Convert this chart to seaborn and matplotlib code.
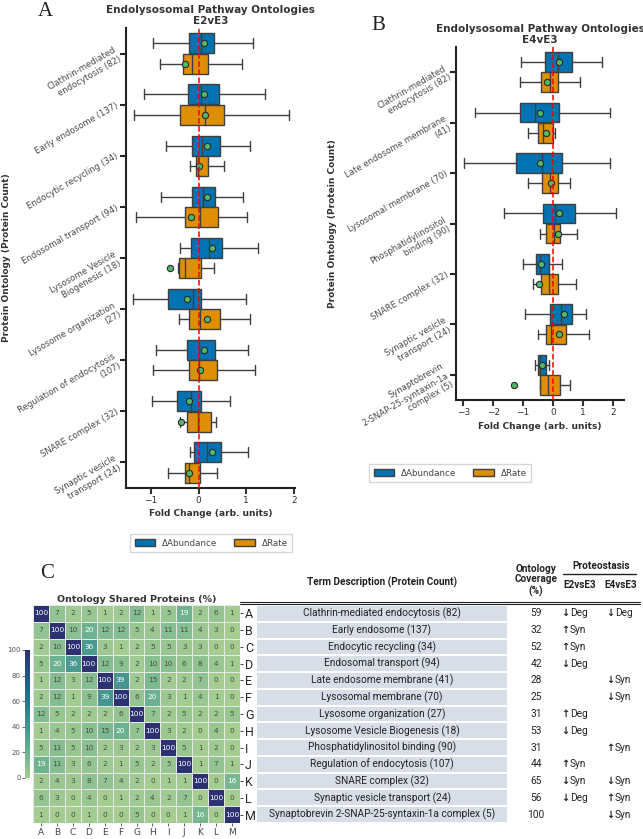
import numpy as np
import matplotlib
matplotlib.use("Agg")
import matplotlib.pyplot as plt
from matplotlib.patches import Patch, Rectangle
import seaborn as sns

sns.set_theme(style="ticks")
plt.rcParams["font.family"] = ["DejaVu Sans"]

W, H = 643, 839
BLUE, ORANGE = "#0173B2", "#DE8F05"
EDGE = "#3f3f3f"
MEAN = "#4fb86a"

# ---- panel A: E2vE3, rows = [whislo, q1, median, q3, whishi, mean]
a_terms = ["Clathrin-mediated\nendocytosis (82)", "Early endosome (137)", "Endocytic recycling (34)",
           "Endosomal transport (94)", "Lysosome Vesicle\nBiogenesis (18)", "Lysosome organization\n(27)",
           "Regulation of endocytosis\n(107)", "SNARE complex (32)", "Synaptic vesicle\ntransport (24)"]
a_abund = [[-0.95, -0.20, 0.05, 0.33, 1.13, 0.12],
           [-1.15, -0.23, 0.06, 0.42, 1.40, 0.12],
           [-0.69, -0.13, 0.07, 0.45, 1.07, 0.17],
           [-0.78, -0.13, 0.10, 0.35, 0.94, 0.17],
           [-0.38, -0.15, 0.21, 0.50, 1.25, 0.29],
           [-1.37, -0.65, -0.12, 0.06, 0.99, -0.24],
           [-0.89, -0.24, 0.00, 0.34, 1.03, 0.11],
           [-0.97, -0.45, -0.15, 0.05, 0.65, -0.20],
           [-0.17, -0.10, 0.17, 0.46, 1.04, 0.29]]
a_rate = [[-0.81, -0.33, -0.13, 0.19, 0.92, -0.29],
          [-1.36, -0.39, 0.13, 0.53, 1.89, 0.13],
          [-0.17, -0.06, -0.01, 0.19, 0.54, 0.01],
          [-1.31, -0.28, 0.02, 0.41, 1.01, -0.16],
          [-0.43, -0.41, -0.28, 0.06, 0.32, -0.59],
          [-0.41, -0.20, 0.02, 0.45, 1.08, 0.17],
          [-0.96, -0.21, 0.01, 0.39, 1.19, 0.02],
          [-0.39, -0.24, -0.01, 0.27, 0.37, -0.37],
          [-0.63, -0.28, -0.19, 0.04, 0.39, -0.21]]

# ---- panel B: E4vE3
b_terms = ["Clathrin-mediated\nendocytosis (82)", "Late endosome membrane\n(41)", "Lysosomal membrane (70)",
           "Phosphatidylinositol\nbinding (90)", "SNARE complex (32)", "Synaptic vesicle\ntransport (24)",
           "Synaptobrevin\n2-SNAP-25-syntaxin-1a\ncomplex (5)"]
b_abund = [[-1.08, -0.27, 0.16, 0.63, 1.63, 0.20],
           [-2.61, -1.10, -0.60, 0.20, 1.90, -0.42],
           [-2.98, -1.24, -0.38, 0.29, 1.90, -0.44],
           [-1.64, -0.33, 0.05, 0.72, 2.09, 0.21],
           [-1.01, -0.56, -0.42, -0.14, 0.29, -0.40],
           [-0.93, -0.09, 0.27, 0.64, 1.11, 0.38],
           [-0.59, -0.51, -0.42, -0.24, -0.14, -0.38]]
b_rate = [[-1.10, -0.40, -0.11, 0.18, 0.89, -0.20],
          [-0.83, -0.50, -0.32, 0.00, 0.07, -0.24],
          [-0.83, -0.37, -0.11, 0.18, 0.58, -0.08],
          [-0.42, -0.22, 0.02, 0.23, 0.80, 0.16],
          [-0.66, -0.40, -0.13, 0.18, 0.78, -0.47],
          [-0.49, -0.22, -0.08, 0.42, 1.20, 0.20],
          [-0.42, -0.42, -0.17, 0.23, 0.56, -1.31]]

# ---- panel C
letters = list("ABCDEFGHIJKLM")
shared = np.array([
    [100, 7, 2, 5, 1, 2, 12, 1, 5, 19, 2, 6, 1],
    [7, 100, 10, 20, 12, 12, 5, 4, 11, 11, 4, 3, 0],
    [2, 10, 100, 36, 3, 1, 2, 5, 5, 3, 3, 0, 0],
    [5, 20, 36, 100, 12, 9, 2, 10, 10, 6, 8, 4, 1],
    [1, 12, 3, 12, 100, 39, 2, 15, 2, 2, 7, 0, 0],
    [2, 12, 1, 9, 39, 100, 6, 20, 3, 1, 4, 1, 0],
    [12, 5, 2, 2, 2, 6, 100, 7, 2, 5, 2, 2, 5],
    [1, 4, 5, 10, 15, 20, 7, 100, 3, 2, 0, 4, 0],
    [5, 11, 5, 10, 2, 3, 2, 3, 100, 5, 1, 2, 0],
    [19, 11, 3, 6, 2, 1, 5, 2, 5, 100, 1, 7, 1],
    [2, 4, 3, 8, 7, 4, 2, 0, 1, 1, 100, 0, 16],
    [6, 3, 0, 4, 0, 1, 2, 4, 2, 7, 0, 100, 0],
    [1, 0, 0, 1, 0, 0, 5, 0, 0, 1, 16, 0, 100]])
term_desc = ["Clathrin-mediated endocytosis (82)", "Early endosome (137)", "Endocytic recycling (34)",
             "Endosomal transport (94)", "Late endosome membrane (41)", "Lysosomal membrane (70)",
             "Lysosome organization (27)", "Lysosome Vesicle Biogenesis (18)", "Phosphatidylinositol binding (90)",
             "Regulation of endocytosis (107)", "SNARE complex (32)", "Synaptic vesicle transport (24)",
             "Synaptobrevin 2-SNAP-25-syntaxin-1a complex (5)"]
coverage = [59, 32, 52, 42, 28, 25, 31, 53, 31, 44, 65, 56, 100]
e2_arrow = ["↓", "↑", "↑", "↓", "", "", "↑", "↓", "", "↑", "↓", "↓", ""]
e2_kind = ["Deg", "Syn", "Syn", "Deg", "", "", "Deg", "Deg", "", "Syn", "Syn", "Deg", ""]
e4_arrow = ["↓", "", "", "", "↓", "↓", "", "", "↑", "", "↓", "↑", "↓"]
e4_kind = ["Deg", "", "", "", "Syn", "Syn", "", "", "Syn", "", "Syn", "Syn", "Syn"]


def px_axes(fig, left, top, right, bottom):
    return fig.add_axes([left / W, 1 - bottom / H, (right - left) / W, (bottom - top) / H])


def draw_panel(ax, terms, abund, rate, title, xlim, xticks):
    pos = np.arange(len(terms))
    for rows, off, col in [(abund, -0.2, BLUE), (rate, 0.2, ORANGE)]:
        stats = [dict(whislo=r[0], q1=r[1], med=r[2], q3=r[3], whishi=r[4], mean=r[5], fliers=[]) for r in rows]
        ax.bxp(stats, positions=pos + off, widths=0.39, orientation="horizontal", patch_artist=True,
               showmeans=True, showfliers=False,
               boxprops=dict(facecolor=col, edgecolor=EDGE, linewidth=1),
               medianprops=dict(color=EDGE, linewidth=1),
               whiskerprops=dict(color=EDGE, linewidth=1),
               capprops=dict(color=EDGE, linewidth=1),
               meanprops=dict(marker="o", markerfacecolor=MEAN, markeredgecolor="#2a2a2a",
                              markersize=4.5, markeredgewidth=0.8))
    ax.axvline(0, color="red", ls="--", lw=1.1, zorder=6)
    ax.set_yticks(pos)
    ax.set_yticklabels(terms, rotation=30, ha="right", va="center", rotation_mode="anchor",
                       fontsize=6.1, color="#4a4a4a")
    ax.set_ylim(len(terms) - 0.5, -0.5)
    ax.set_xlim(*xlim)
    ax.set_xticks(xticks)
    ax.tick_params(axis="x", labelsize=6.5, colors="#333333", length=4, width=1.5, pad=2)
    ax.tick_params(axis="y", length=4, width=1.5, pad=2)
    ax.set_xlabel("Fold Change (arb. units)", fontsize=6.5, fontweight="bold", color="#333333", labelpad=3)
    ax.set_ylabel("Protein Ontology (Protein Count)", fontsize=6.5, fontweight="bold", color="#333333")
    ax.set_title(title, fontsize=7.5, fontweight="bold", color="#333333", pad=3, linespacing=1.1)
    sns.despine(ax=ax)
    for s in ["left", "bottom"]:
        ax.spines[s].set_linewidth(1.5)
        ax.spines[s].set_color("#222222")


fig = plt.figure(figsize=(W / 100, H / 100), dpi=100)

ax_a = px_axes(fig, 126, 28, 295, 488)
draw_panel(ax_a, a_terms, a_abund, a_rate, "Endolysosomal Pathway Ontologies\nE2vE3", (-1.52, 2.02), [-1, 0, 1, 2])
ax_b = px_axes(fig, 456, 47, 624, 400)
draw_panel(ax_b, b_terms, b_abund, b_rate, "Endolysosomal Pathway Ontologies\nE4vE3", (-3.24, 2.37), [-3, -2, -1, 0, 1, 2])

handles = [Patch(facecolor=BLUE, edgecolor=EDGE, label="ΔAbundance"),
           Patch(facecolor=ORANGE, edgecolor=EDGE, label="ΔRate")]
for cx, cy in [(211, 543), (450, 473)]:
    fig.legend(handles=handles, loc="center", bbox_to_anchor=(cx / W, 1 - cy / H), ncol=2, fontsize=6.3,
               frameon=True, handlelength=2.3, handleheight=0.8, columnspacing=2.0, borderpad=0.5,
               fancybox=False, edgecolor="#cccccc", labelcolor="#444444")

# heatmap
ax_h = px_axes(fig, 33, 605, 240, 823)
ax_cb = px_axes(fig, 25, 650, 30, 778)
sns.heatmap(shared, cmap="crest", vmin=0, vmax=100, annot=True, fmt="d", annot_kws={"size": 5.3},
            linewidths=0.4, linecolor="#e8e8e8", xticklabels=letters, yticklabels=letters,
            ax=ax_h, cbar_ax=ax_cb)
for t in ax_h.texts:
    if t.get_color() != "w":
        t.set_color("#4a4a4a")
ax_h.set_title("Ontology Shared Proteins (%)", fontsize=6.8, fontweight="bold", color="#333333", pad=2)
ax_h.yaxis.tick_right()
ax_h.tick_params(axis="y", right=True, left=False, length=2.5, width=0.6, labelsize=9, rotation=0, pad=1)
ax_h.tick_params(axis="x", bottom=True, length=2.5, width=0.6, labelsize=6.5, pad=1, colors="#444444")
for t in ax_h.get_yticklabels():
    t.set_family("Roboto")
ax_cb.yaxis.set_ticks_position("left")
ax_cb.set_yticks([0, 20, 40, 60, 80, 100])
ax_cb.tick_params(labelsize=5, length=2, width=0.6, colors="#555555", pad=1)
ax_h.collections[0].colorbar.outline.set_visible(False)

# table next to heatmap
ax_t = px_axes(fig, 240, 605, 640, 823)
ax_t.set_xlim(240, 640)
ax_t.set_ylim(13, 0)
ax_t.axis("off")
rowfont = dict(family="Roboto", fontsize=7.3, color="#222222", va="center")
for i, term in enumerate(term_desc):
    ax_t.add_patch(Rectangle((257, i + 0.06), 250, 0.88, facecolor="#d8dee8", edgecolor="none"))
    ax_t.text(382, i + 0.5, term, ha="center", **rowfont)
    ax_t.text(536, i + 0.5, str(coverage[i]), ha="center", **rowfont)
    if e2_kind[i]:
        ax_t.text(569.5, i + 0.5, e2_arrow[i], ha="right", fontweight="bold", fontsize=7, va="center", color="#222222")
        ax_t.text(570, i + 0.5, e2_kind[i], ha="left", **rowfont)
    if e4_kind[i]:
        ax_t.text(614.5, i + 0.5, e4_arrow[i], ha="right", fontweight="bold", fontsize=7, va="center", color="#222222")
        ax_t.text(615, i + 0.5, e4_kind[i], ha="left", **rowfont)

hdr = dict(family="Roboto", fontsize=7.2, fontweight="bold", color="#222222", va="center", ha="center")
ax_t.text(382, -1.37, "Term Description (Protein Count)", **hdr)
ax_t.text(536, -1.49, "Ontology\nCoverage\n(%)", linespacing=1.1, **hdr)
ax_t.text(601, -2.32, "Proteostasis", **hdr)
ax_t.text(580, -1.19, "E2vsE3", **hdr)
ax_t.text(621, -1.19, "E4vsE3", **hdr)
ax_t.plot([563, 636], [-1.85, -1.85], color="#222222", lw=1, clip_on=False)
for yy in [-0.17, -0.04]:
    ax_t.plot([240, 640], [yy, yy], color="#222222", lw=0.8, clip_on=False)

for lab, x, y in [("A", 45, 12), ("B", 378, 25), ("C", 47, 574)]:
    fig.text(x / W, 1 - y / H, lab, family="Liberation Serif", fontsize=15, ha="center", va="center", color="#222222")

fig.savefig("out.png", dpi=100)
